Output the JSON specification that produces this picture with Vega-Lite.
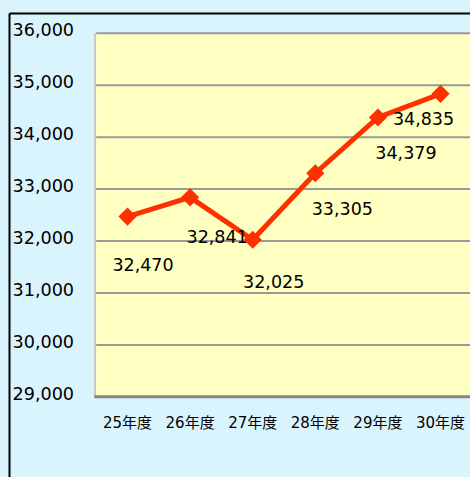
{
  "$schema": "https://vega.github.io/schema/vega-lite/v6.json",
  "width": 461,
  "height": 464,
  "autosize": {"type": "none"},
  "padding": {"left": 9, "top": 13, "right": 0, "bottom": 0},
  "background": "#daf4fd",
  "config": {
    "view": {"stroke": null, "fill": "#daf4fd"},
    "font": "DejaVu Sans, Noto Sans CJK JP",
    "text": {"font": "DejaVu Sans, Noto Sans CJK JP"}
  },
  "datasets": {
    "main": [
      {"年度": "25年度", "n": 25, "value": 32470},
      {"年度": "26年度", "n": 26, "value": 32841},
      {"年度": "27年度", "n": 27, "value": 32025},
      {"年度": "28年度", "n": 28, "value": 33305},
      {"年度": "29年度", "n": 29, "value": 34379},
      {"年度": "30年度", "n": 30, "value": 34835}
    ],
    "grid": [
      {"g": 30000}, {"g": 31000}, {"g": 32000}, {"g": 33000},
      {"g": 34000}, {"g": 35000}, {"g": 36000}
    ],
    "plot": [{"area": "plot"}]
  },
  "layer": [
    {
      "data": {"name": "plot"},
      "mark": {"type": "rect", "fill": "#ffffc1", "clip": true},
      "encoding": {
        "x": {"datum": 24.5, "type": "quantitative"},
        "x2": {"datum": 30.5},
        "y": {"datum": 29000, "type": "quantitative"},
        "y2": {"datum": 36000}
      }
    },
    {
      "data": {"name": "grid"},
      "mark": {"type": "rule", "stroke": "#999999", "strokeWidth": 2, "clip": true},
      "encoding": {
        "y": {"field": "g", "type": "quantitative"},
        "x": {"datum": 24.5},
        "x2": {"datum": 30.5}
      }
    },
    {
      "data": {"name": "plot"},
      "mark": {"type": "rule", "stroke": "#c8c8c8", "strokeWidth": 2},
      "encoding": {
        "x": {"datum": 24.48},
        "y": {"datum": 29000},
        "y2": {"datum": 36000}
      }
    },
    {
      "data": {"name": "plot"},
      "mark": {"type": "rule", "stroke": "#858585", "strokeWidth": 3, "clip": true},
      "encoding": {
        "y": {"datum": 29000},
        "x": {"datum": 24.47},
        "x2": {"datum": 30.5}
      }
    },
    {
      "data": {"name": "main"},
      "mark": {"type": "line", "color": "#ff3000", "strokeWidth": 5},
      "encoding": {
        "x": {"field": "n", "type": "quantitative", "scale": {"domain": [23.107, 30.471], "nice": false, "zero": false},
          "axis": {"orient": "top", "labels": false, "ticks": false, "tickSize": 0, "grid": false, "domainColor": "#000000", "domainWidth": 2, "title": null}},
        "y": {"field": "value", "type": "quantitative", "scale": {"domain": [27456, 36391], "nice": false, "zero": false},
          "axis": {"orient": "left", "values": [29000, 30000, 31000, 32000, 33000, 34000, 35000, 36000], "format": ",d", "labelAlign": "left", "labelPadding": -3, "labelOffset": -2.5, "ticks": false, "tickSize": 0, "grid": false, "domainColor": "#000000", "domainWidth": 2, "title": null, "labelFontSize": 17.6, "labelColor": "#000000", "labelFont": "DejaVu Sans"}}
      }
    },
    {
      "data": {"name": "main"},
      "mark": {"type": "point", "shape": "diamond", "filled": true, "size": 330, "color": "#ff3000", "opacity": 1},
      "encoding": {
        "x": {"field": "n", "type": "quantitative"},
        "y": {"field": "value", "type": "quantitative"}
      }
    },
    {
      "data": {"name": "main"},
      "transform": [{"filter": "datum.n == 25"}],
      "mark": {"type": "text", "fontSize": 17.5, "color": "#000000", "align": "center", "baseline": "middle", "dx": 15.5, "dy": 49, "font": "DejaVu Sans"},
      "encoding": {"x": {"field": "n", "type": "quantitative"}, "y": {"field": "value", "type": "quantitative"}, "text": {"field": "value", "type": "quantitative", "format": ",d"}}
    },
    {
      "data": {"name": "main"},
      "transform": [{"filter": "datum.n == 26"}],
      "mark": {"type": "text", "fontSize": 17.5, "color": "#000000", "align": "center", "baseline": "middle", "dx": 27, "dy": 41, "font": "DejaVu Sans"},
      "encoding": {"x": {"field": "n", "type": "quantitative"}, "y": {"field": "value", "type": "quantitative"}, "text": {"field": "value", "type": "quantitative", "format": ",d"}}
    },
    {
      "data": {"name": "main"},
      "transform": [{"filter": "datum.n == 27"}],
      "mark": {"type": "text", "fontSize": 17.5, "color": "#000000", "align": "center", "baseline": "middle", "dx": 21, "dy": 43.5, "font": "DejaVu Sans"},
      "encoding": {"x": {"field": "n", "type": "quantitative"}, "y": {"field": "value", "type": "quantitative"}, "text": {"field": "value", "type": "quantitative", "format": ",d"}}
    },
    {
      "data": {"name": "main"},
      "transform": [{"filter": "datum.n == 28"}],
      "mark": {"type": "text", "fontSize": 17.5, "color": "#000000", "align": "center", "baseline": "middle", "dx": 27, "dy": 37, "font": "DejaVu Sans"},
      "encoding": {"x": {"field": "n", "type": "quantitative"}, "y": {"field": "value", "type": "quantitative"}, "text": {"field": "value", "type": "quantitative", "format": ",d"}}
    },
    {
      "data": {"name": "main"},
      "transform": [{"filter": "datum.n == 29"}],
      "mark": {"type": "text", "fontSize": 17.5, "color": "#000000", "align": "center", "baseline": "middle", "dx": 28, "dy": 37, "font": "DejaVu Sans"},
      "encoding": {"x": {"field": "n", "type": "quantitative"}, "y": {"field": "value", "type": "quantitative"}, "text": {"field": "value", "type": "quantitative", "format": ",d"}}
    },
    {
      "data": {"name": "main"},
      "transform": [{"filter": "datum.n == 30"}],
      "mark": {"type": "text", "fontSize": 17.5, "color": "#000000", "align": "center", "baseline": "middle", "dx": -17, "dy": 26, "font": "DejaVu Sans"},
      "encoding": {"x": {"field": "n", "type": "quantitative"}, "y": {"field": "value", "type": "quantitative"}, "text": {"field": "value", "type": "quantitative", "format": ",d"}}
    },
    {
      "data": {"name": "main"},
      "mark": {"type": "text", "fontSize": 15, "color": "#000000", "align": "center", "baseline": "middle"},
      "encoding": {
        "x": {"field": "n", "type": "quantitative"},
        "y": {"datum": 28500},
        "text": {"field": "年度", "type": "nominal"}
      }
    }
  ]
}
